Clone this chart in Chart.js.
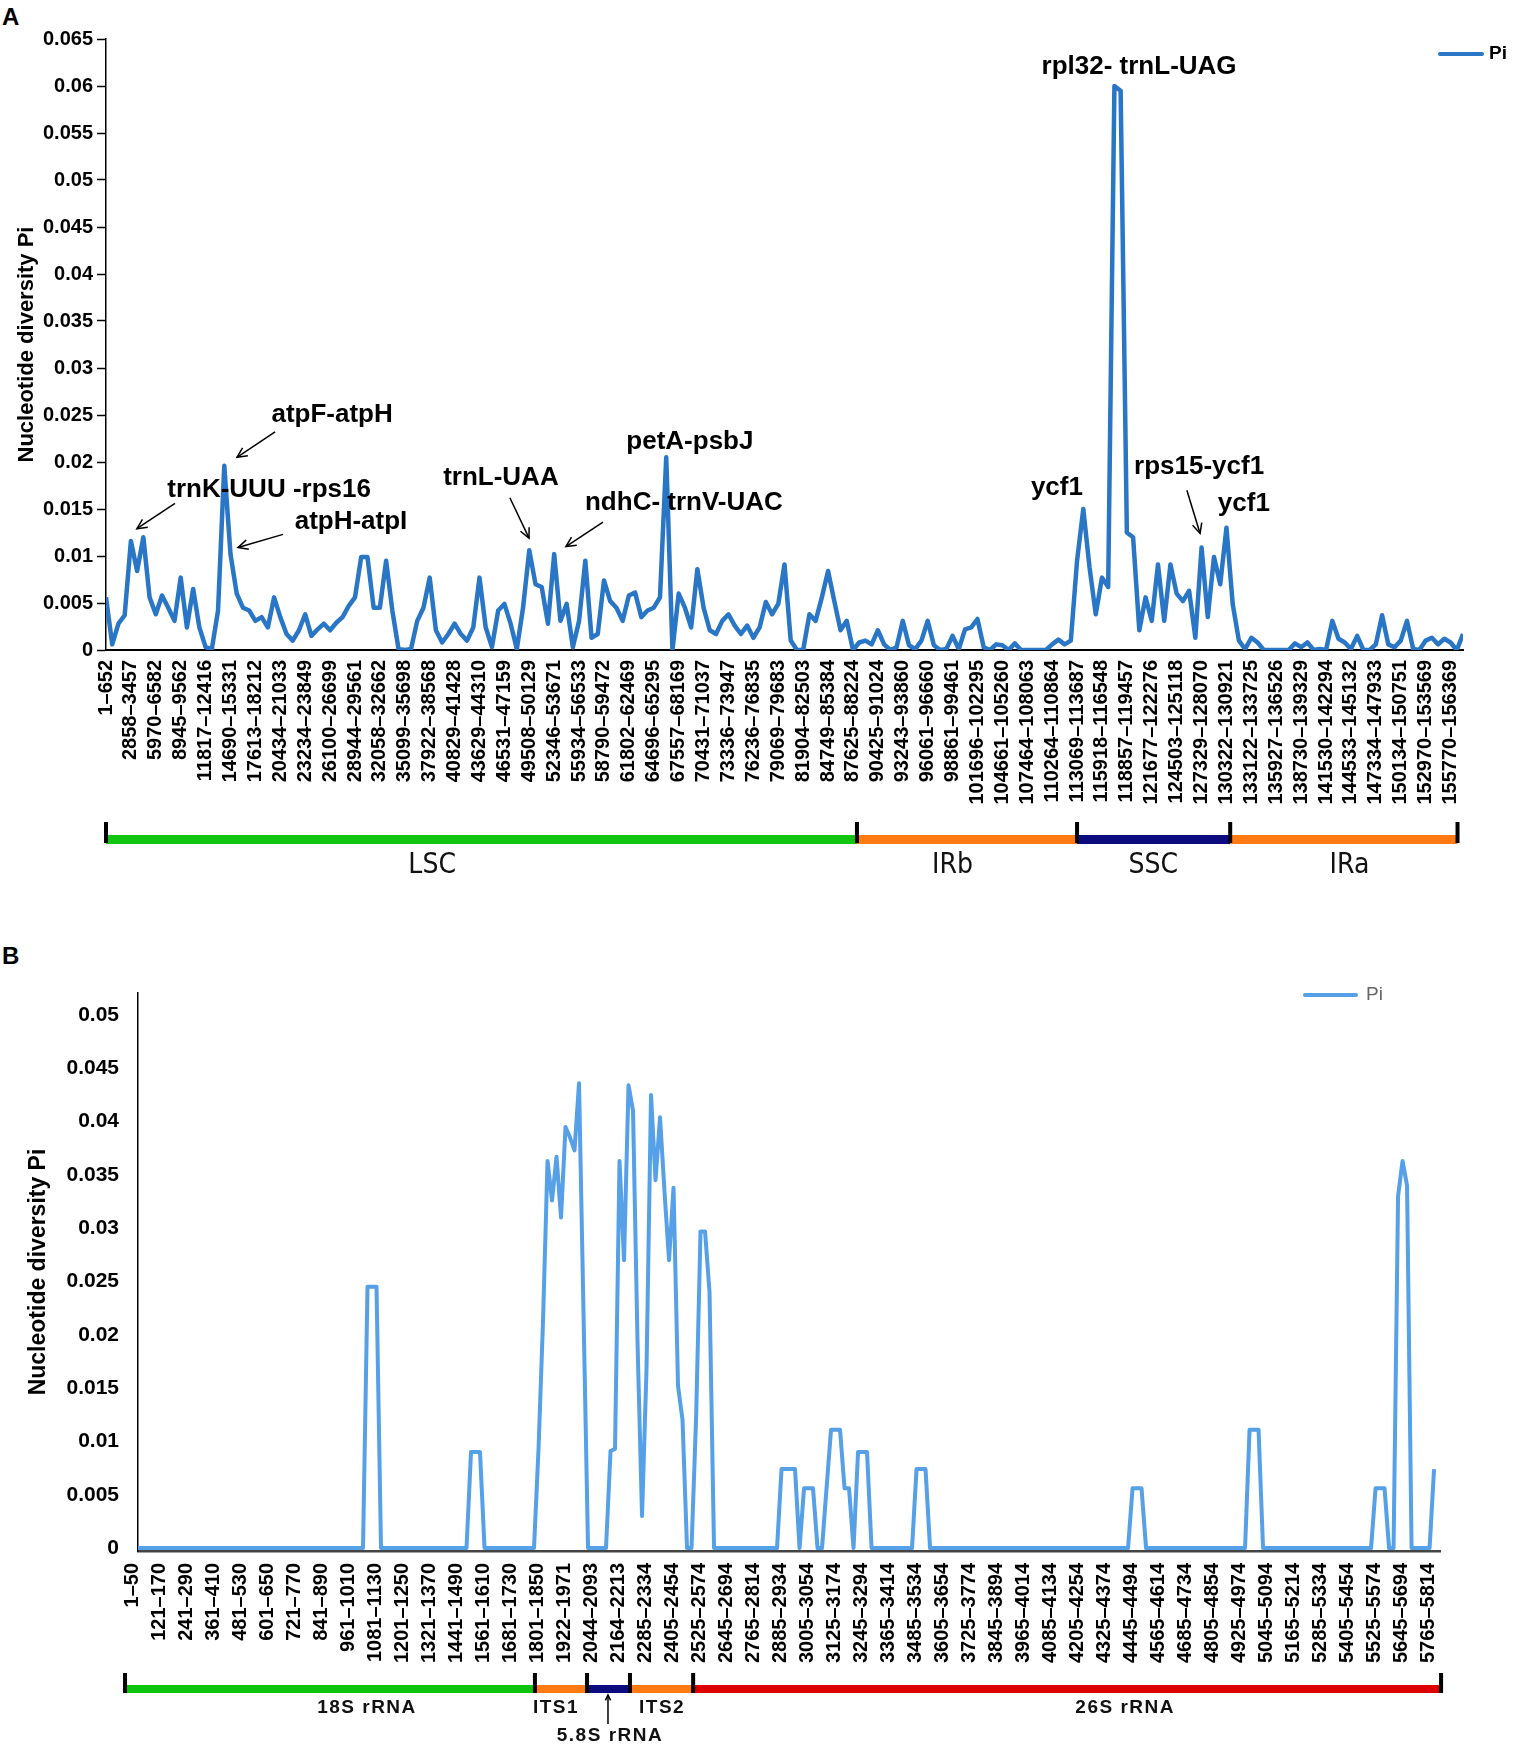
<!DOCTYPE html>
<html>
<head>
<meta charset="utf-8">
<script src="https://cdn.jsdelivr.net/npm/chart.js@4.4.1/dist/chart.umd.min.js"></script>
<style>
  body { margin: 0; background: #fff; width: 1514px; height: 1758px; position: relative; overflow: hidden; }
  canvas { position: absolute; left: 0; }
  #chartA { top: 0; }
  #chartB { top: 900px; }
  .panel { position: absolute; left: 2px; font: bold 24px/24px "Liberation Sans", Arial, sans-serif; color: #000; }
</style>
</head>
<body>
<div class="panel" style="top:5px">A</div>
<div class="panel" style="top:944px">B</div>
<canvas id="chartA" width="1514" height="900"></canvas>
<canvas id="chartB" width="1514" height="858"></canvas>
<script>
// ---- panel A: chloroplast genome, sliding window Pi ----
const windowsA = ['1–652','2858–3457','5970–6582','8945–9562','11817–12416','14690–15331','17613–18212',
  '20434–21033','23234–23849','26100–26699','28944–29561','32058–32662','35099–35698','37922–38568',
  '40829–41428','43629–44310','46531–47159','49508–50129','52346–53671','55934–56533','58790–59472',
  '61802–62469','64696–65295','67557–68169','70431–71037','73336–73947','76236–76835','79069–79683',
  '81904–82503','84749–85384','87625–88224','90425–91024','93243–93860','96061–96660','98861–99461',
  '101696–102295','104661–105260','107464–108063','110264–110864','113069–113687','115918–116548',
  '118857–119457','121677–122276','124503–125118','127329–128070','130322–130921','133122–133725',
  '135927–136526','138730–139329','141530–142294','144533–145132','147334–147933','150134–150751',
  '152970–153569','155770–156369'];

// 4 values per labelled window
const piA = [
  0.0056,0.0006,0.0028,0.0037,0.0116,0.0084,0.012,0.0056,0.0038,0.0058,
  0.0045,0.0031,0.0077,0.0024,0.0065,0.0024,0.0003,0.0001,0.0042,0.0196,
  0.0102,0.006,0.0045,0.0042,0.0031,0.0035,0.0024,0.0056,0.0035,0.0017,
  0.001,0.0021,0.0038,0.0015,0.0022,0.0028,0.0021,0.0029,0.0035,0.0047,
  0.0056,0.0099,0.0099,0.0045,0.0045,0.0095,0.0042,0.0001,0,0.0001,
  0.0031,0.0045,0.0077,0.0021,0.0008,0.0017,0.0028,0.0017,0.001,0.0024,
  0.0077,0.0024,0.0003,0.0042,0.0049,0.0028,0.0001,0.0045,0.0106,0.007,
  0.0067,0.0028,0.0102,0.0031,0.0049,0.0003,0.0031,0.0095,0.0013,0.0017,
  0.0074,0.0052,0.0045,0.0031,0.0058,0.0061,0.0035,0.0042,0.0045,0.0056,
  0.0205,0,0.006,0.0045,0.0024,0.0086,0.0045,0.0021,0.0017,0.0031,
  0.0038,0.0026,0.0017,0.0026,0.0013,0.0024,0.0051,0.0038,0.0049,0.0091,
  0.001,0,0,0.0038,0.0031,0.0056,0.0084,0.0052,0.0021,0.0031,
  0,0.0008,0.001,0.0006,0.0021,0.0006,0,0.0003,0.0031,0.0005,
  0.0001,0.001,0.0031,0.0005,0,0.0001,0.0015,0.0001,0.0022,0.0024,
  0.0033,0.0003,0,0.0006,0.0005,0,0.0007,0,0,0,
  0,0,0.0006,0.0011,0.0006,0.001,0.0095,0.015,0.0088,0.0038,
  0.0077,0.0067,0.06,0.0595,0.0125,0.012,0.0021,0.0056,0.0031,0.0091,
  0.0031,0.0091,0.006,0.0052,0.0063,0.0013,0.0109,0.0035,0.0099,0.007,
  0.013,0.0049,0.001,0.0001,0.0013,0.0008,0,0,0,0,
  0,0.0007,0.0003,0.0008,0,0.0001,0,0.0031,0.0012,0.0008,
  0.0001,0.0015,0,0,0.0006,0.0037,0.0006,0.0003,0.001,0.0031,
  0.0001,0,0.001,0.0013,0.0006,0.0012,0.0008,0,0.0017
];
const yTicksA = [0,0.005,0.01,0.015,0.02,0.025,0.03,0.035,0.04,0.045,0.05,0.055,0.06,0.065];
const regionNamesA = ['LSC','IRb','SSC','IRa'];
const regionEdgesA = [0, 30.16, 39, 45.15, 54.28];

const notesA = [
  { text: 'atpF-atpH', at: [9.08, 0.0250], from: [6.79, 0.0232], to: [5.26, 0.0205] },
  { text: 'trnK-UUU -rps16', at: [6.55, 0.0170], from: [2.77, 0.0156], to: [1.24, 0.0129] },
  { text: 'atpH-atpI', at: [9.84, 0.0136], from: [7.11, 0.0123], to: [5.30, 0.0109] },
  { text: 'trnL-UAA', at: [15.86, 0.0183], from: [16.22, 0.0162], to: [16.99, 0.0119] },
  { text: 'ndhC- trnV-UAC', at: [23.21, 0.0157], from: [19.96, 0.0136], to: [18.47, 0.0110] },
  { text: 'petA-psbJ', at: [23.45, 0.0221] },
  { text: 'rpl32- trnL-UAG', at: [41.49, 0.0620] },
  { text: 'ycf1', at: [38.19, 0.0172] },
  { text: 'rps15-ycf1', at: [43.90, 0.0195], from: [43.41, 0.0170], to: [43.94, 0.0124] },
  { text: 'ycf1', at: [45.70, 0.0156] }
];

// ---- panel B: nrDNA, sliding window Pi ----
const windowsB = ['1–50','121–170','241–290','361–410','481–530','601–650','721–770','841–890','961–1010',
  '1081–1130','1201–1250','1321–1370','1441–1490','1561–1610','1681–1730','1801–1850','1922–1971',
  '2044–2093','2164–2213','2285–2334','2405–2454','2525–2574','2645–2694','2765–2814','2885–2934',
  '3005–3054','3125–3174','3245–3294','3365–3414','3485–3534','3605–3654','3725–3774','3845–3894',
  '3965–4014','4085–4134','4205–4254','4325–4374','4445–4494','4565–4614','4685–4734','4805–4854',
  '4925–4974','5045–5094','5165–5214','5285–5334','5405–5454','5525–5574','5645–5694','5765–5814'];

// 6 values per labelled window
const piB = [
  0,0,0,0,0,0,0,0,0,0,
  0,0,0,0,0,0,0,0,0,0,
  0,0,0,0,0,0,0,0,0,0,
  0,0,0,0,0,0,0,0,0,0,
  0,0,0,0,0,0,0,0,0,0,
  0,0.0245,0.0245,0.0245,0,0,0,0,0,0,
  0,0,0,0,0,0,0,0,0,0,
  0,0,0,0,0.009,0.009,0.009,0,0,0,
  0,0,0,0,0,0,0,0,0,0.0093,
  0.0213,0.0363,0.0326,0.0367,0.031,0.0395,0.0385,0.0373,0.0436,0.022,
  0,0,0,0,0,0.0091,0.0093,0.0363,0.027,0.0434,
  0.041,0.0193,0.003,0.0168,0.0425,0.0345,0.0404,0.0334,0.027,0.0338,
  0.0152,0.012,0,0,0.012,0.0297,0.0297,0.024,0,0,
  0,0,0,0,0,0,0,0,0,0,
  0,0,0,0.0074,0.0074,0.0074,0.0074,0,0.0056,0.0056,
  0.0056,0,0,0.0056,0.0111,0.0111,0.0111,0.0056,0.0056,0,
  0.009,0.009,0.009,0,0,0,0,0,0,0,
  0,0,0,0.0074,0.0074,0.0074,0,0,0,0,
  0,0,0,0,0,0,0,0,0,0,
  0,0,0,0,0,0,0,0,0,0,
  0,0,0,0,0,0,0,0,0,0,
  0,0,0,0,0,0,0,0,0,0,
  0,0.0056,0.0056,0.0056,0,0,0,0,0,0,
  0,0,0,0,0,0,0,0,0,0,
  0,0,0,0,0,0,0,0.0111,0.0111,0.0111,
  0,0,0,0,0,0,0,0,0,0,
  0,0,0,0,0,0,0,0,0,0,
  0,0,0,0,0,0.0056,0.0056,0.0056,0,0,
  0.033,0.0363,0.034,0,0,0,0,0,0.0074
];
const yTicksB = [0,0.005,0.01,0.015,0.02,0.025,0.03,0.035,0.04,0.045,0.05];
const regionNamesB = ['18S rRNA','ITS1','5.8S rRNA','ITS2','26S rRNA'];
const regionEdgesB = [-0.48, 14.7, 16.63, 18.22, 20.56, 48.26];

const FONT = '"Liberation Sans", Arial, sans-serif';
const NARROW = '"Liberation Sans Narrow", "DejaVu Sans Condensed", "Liberation Sans", sans-serif';

function arrow(ctx, x1, y1, x2, y2, head) {
  ctx.beginPath();
  ctx.moveTo(x1, y1);
  ctx.lineTo(x2, y2);
  ctx.stroke();
  const a = Math.atan2(y2 - y1, x2 - x1);
  ctx.beginPath();
  ctx.moveTo(x2 - head * Math.cos(a - 0.45), y2 - head * Math.sin(a - 0.45));
  ctx.lineTo(x2, y2);
  ctx.lineTo(x2 - head * Math.cos(a + 0.45), y2 - head * Math.sin(a + 0.45));
  ctx.stroke();
}

// draws gene notes, region bars and the legend
function makeDecor(cfg) {
  return {
    id: 'decor',
    afterDatasetsDraw(chart) {
      const ctx = chart.ctx;
      const xs = chart.scales.x, ys = chart.scales.y;
      ctx.save();

      ctx.fillStyle = '#000';
      ctx.strokeStyle = '#000';
      ctx.lineWidth = 1.5;
      ctx.textAlign = 'center';
      ctx.textBaseline = 'middle';
      ctx.font = 'bold 26px ' + FONT;
      (cfg.notes || []).forEach(n => {
        ctx.fillText(n.text, xs.getPixelForValue(n.at[0]), ys.getPixelForValue(n.at[1]));
        if (n.from) {
          arrow(ctx, xs.getPixelForValue(n.from[0]), ys.getPixelForValue(n.from[1]),
                xs.getPixelForValue(n.to[0]), ys.getPixelForValue(n.to[1]), 11);
        }
      });

      // region bar
      const r = cfg.regions;
      r.names.forEach((name, k) => {
        const a = xs.getPixelForValue(r.edges[k]), b = xs.getPixelForValue(r.edges[k + 1]);
        ctx.fillStyle = r.colors[k];
        ctx.fillRect(a, r.barTop, b - a, r.barH);
      });
      ctx.fillStyle = '#000';
      r.edges.forEach(e => {
        const p = xs.getPixelForValue(e);
        ctx.fillRect(p - 2, r.markTop, 4, r.markH);
      });
      ctx.font = r.font;
      if (r.spacing) ctx.letterSpacing = r.spacing;
      ctx.fillStyle = '#111';
      r.names.forEach((name, k) => {
        const px = xs.getPixelForValue(r.labelAt[k]);
        const py = r.labelY[r.row[k]];
        ctx.fillText(name, px, py);
        if (r.row[k] === 1) {
          ctx.lineWidth = 1.5;
          arrow(ctx, px - 2, py - 12, px - 2, r.barTop + r.barH + 2, 6);
        }
      });
      ctx.letterSpacing = '0px';

      // legend
      const L = cfg.legend, ds = chart.data.datasets[0];
      ctx.strokeStyle = ds.borderColor;
      ctx.lineWidth = 4;
      ctx.lineCap = 'round';
      ctx.beginPath();
      ctx.moveTo(L.x0, L.y);
      ctx.lineTo(L.x1, L.y);
      ctx.stroke();
      ctx.font = L.font;
      ctx.fillStyle = L.color;
      ctx.textAlign = 'left';
      ctx.fillText(ds.label, L.x1 + L.gap, L.y);
      ctx.restore();
    }
  };
}

function lineChart(canvasId, o) {
  return new Chart(document.getElementById(canvasId), {
    type: 'line',
    data: {
      datasets: [{
        label: 'Pi',
        data: o.values.map((v, i) => ({ x: i / o.perWindow, y: v })),
        borderColor: o.color,
        borderWidth: o.width,
        borderJoinStyle: 'round',
        pointRadius: 0,
        tension: 0,
        fill: false
      }]
    },
    options: {
      responsive: false,
      animation: false,
      events: [],
      layout: { padding: o.padding },
      plugins: { legend: { display: false }, tooltip: { enabled: false } },
      scales: {
        x: {
          type: 'linear',
          min: 0,
          max: o.xMax,
          afterFit: s => { s.height = o.xHeight; },
          afterBuildTicks: s => { s.ticks = o.windows.map((w, k) => ({ value: k })); },
          ticks: {
            autoSkip: false,
            minRotation: 90,
            maxRotation: 90,
            padding: o.xPad,
            labelOffset: o.labelOffset,
            color: '#000',
            font: { family: FONT, size: 20, weight: 'bold' },
            callback: (v, i) => o.windows[i]
          },
          grid: { display: false, drawTicks: false },
          border: { display: true, color: o.xAxisColor, width: o.xAxisWidth }
        },
        y: {
          min: o.yMin,
          max: o.yMax,
          afterFit: s => { s.width = o.yWidth; },
          afterBuildTicks: s => { s.ticks = o.yTicks.map(v => ({ value: v })); },
          ticks: {
            padding: o.yPad,
            color: '#000',
            font: { family: FONT, size: o.yFont, weight: 'bold' },
            callback: v => String(v)
          },
          grid: o.yTickMarks
            ? { display: true, drawOnChartArea: false, drawTicks: true, tickLength: 9, tickWidth: 1.5, color: '#000' }
            : { display: false, drawTicks: false },
          border: { display: true, color: '#000', width: 1.5 },
          title: {
            display: true,
            text: 'Nucleotide diversity Pi',
            color: '#000',
            font: { family: FONT, size: o.titleSize, weight: 'bold' },
            padding: { top: o.titlePad, bottom: 0 }
          }
        }
      }
    },
    plugins: [makeDecor(o.decor)]
  });
}

lineChart('chartA', {
  values: piA, perWindow: 4, windows: windowsA,
  color: '#2a76c6', width: 4.5,
  padding: { top: 39, right: 51, left: 0, bottom: 0 },
  xMax: 54.5, xHeight: 250, xPad: 10, labelOffset: 0, xAxisColor: '#000', xAxisWidth: 2,
  yMin: 0, yMax: 0.065, yTicks: yTicksA, yWidth: 106, yPad: 4, yFont: 20, yTickMarks: true,
  titleSize: 22, titlePad: 14,
  decor: {
    notes: notesA,
    regions: {
      names: regionNamesA, edges: regionEdgesA,
      colors: ['#12c412', '#ff7a12', '#0b0b7d', '#ff7a12'],
      labelAt: [13.1, 34.0, 42.06, 49.94], row: [0, 0, 0, 0],
      barTop: 835, barH: 9, markTop: 822, markH: 21,
      labelY: [866], font: '28px ' + NARROW
    },
    legend: { x0: 1440, x1: 1482, y: 54, gap: 7, font: 'bold 19px ' + FONT, color: '#000' }
  }
});

lineChart('chartB', {
  values: piB, perWindow: 6, windows: windowsB,
  color: '#55a0e6', width: 4,
  padding: { top: 93, right: 74, left: 0, bottom: 0 },
  xMax: 48.22, xHeight: 207, xPad: 12, labelOffset: -6, xAxisColor: '#444', xAxisWidth: 2.5,
  yMin: -0.00028, yMax: 0.05206, yTicks: yTicksB, yWidth: 138, yPad: 19, yFont: 21, yTickMarks: false,
  titleSize: 23, titlePad: 25,
  decor: {
    notes: [],
    regions: {
      names: regionNamesB, edges: regionEdgesB,
      colors: ['#0cc40c', '#ff7a12', '#0b0b7d', '#ff7a12', '#dd0000'],
      labelAt: [8.48, 15.48, 17.48, 19.41, 36.56], row: [0, 0, 1, 0, 0],
      barTop: 785, barH: 8, markTop: 773, markH: 20,
      labelY: [808, 836], font: 'bold 19px ' + FONT, spacing: '1.5px'
    },
    legend: { x0: 1305, x1: 1356, y: 95, gap: 10, font: '19px ' + FONT, color: '#666' }
  }
});
</script>
</body>
</html>
